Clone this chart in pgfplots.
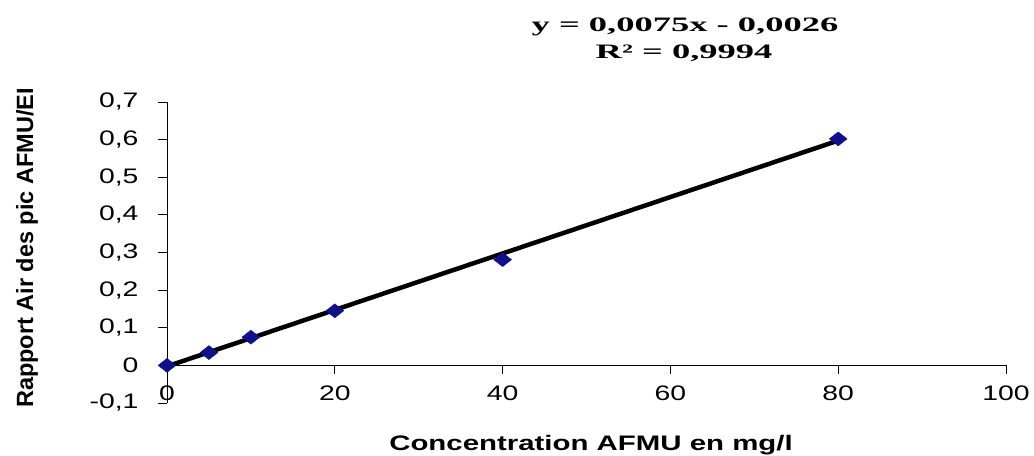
\documentclass[border=0pt]{standalone}
\usepackage{pgfplots}
\pgfplotsset{compat=1.18}
\usepackage{fontspec}
\setmainfont{Liberation Sans}[FakeStretch=1.35]
\newfontfamily\lablfont{Liberation Sans Bold}[FakeStretch=1.4]
\newfontfamily\ylabfont{Liberation Sans Bold}
\newfontfamily\eqfont{Liberation Serif Bold}[FakeStretch=1.78]
\definecolor{markblue}{RGB}{16,16,140}

\begin{document}
\begin{tikzpicture}
\useasboundingbox (0,0) rectangle (1034bp,456bp);
\begin{axis}[
    at={(167bp,53bp)}, anchor=south west,
    width=839bp, height=301bp, scale only axis,
    xmin=0, xmax=100, ymin=-0.1, ymax=0.7,
    axis y line*=left, axis x line*=middle,
    hide obscured x ticks=false, hide obscured y ticks=false,
    xtick={0,20,40,60,80,100},
    ytick={-0.1,0,0.1,0.2,0.3,0.4,0.5,0.6,0.7},
    xtick align=outside, ytick align=outside,
    major tick length=9bp,
    axis line style={line width=1bp},
    every tick/.style={line width=1bp, black},
    tick label style={font=\fontsize{21bp}{24bp}\selectfont},
    /pgf/number format/assume math mode=true,
    xticklabel style={yshift=-8bp},
    yticklabel style={xshift=-16bp, /pgf/number format/.cd, use comma, fixed, fixed zerofill, precision=1},
    yticklabel={\ifdim\tick pt=0pt 0\else\pgfmathprintnumber{\tick}\fi},
    clip=false,
]
% points
\addplot[only marks, mark=diamond*, mark size=7bp, color=markblue,
    mark options={xscale=1.7}] coordinates {
    (0,0) (5,0.034) (10,0.075) (20,0.145) (40,0.281) (80,0.602)
};
% linear trendline y = 0.0075x - 0.0026, end points
\addplot[black, line width=4.5bp] coordinates {(0,-0.0026) (80,0.5974)};
\end{axis}
\node[anchor=base] at (591bp,6bp) {\lablfont\fontsize{21bp}{24bp}\selectfont Concentration AFMU en mg/l};
\node[anchor=base, rotate=90] at (33bp,208bp) {\ylabfont\fontsize{23.5bp}{26bp}\selectfont Rapport Air des pic AFMU/EI};
\node[anchor=base] at (685bp,424bp) {\eqfont\fontsize{20.5bp}{24bp}\selectfont y = 0,0075x - 0,0026};
\node[anchor=base] at (684bp,397bp) {\eqfont\fontsize{20.5bp}{24bp}\selectfont R² = 0,9994};
\end{tikzpicture}
\end{document}
